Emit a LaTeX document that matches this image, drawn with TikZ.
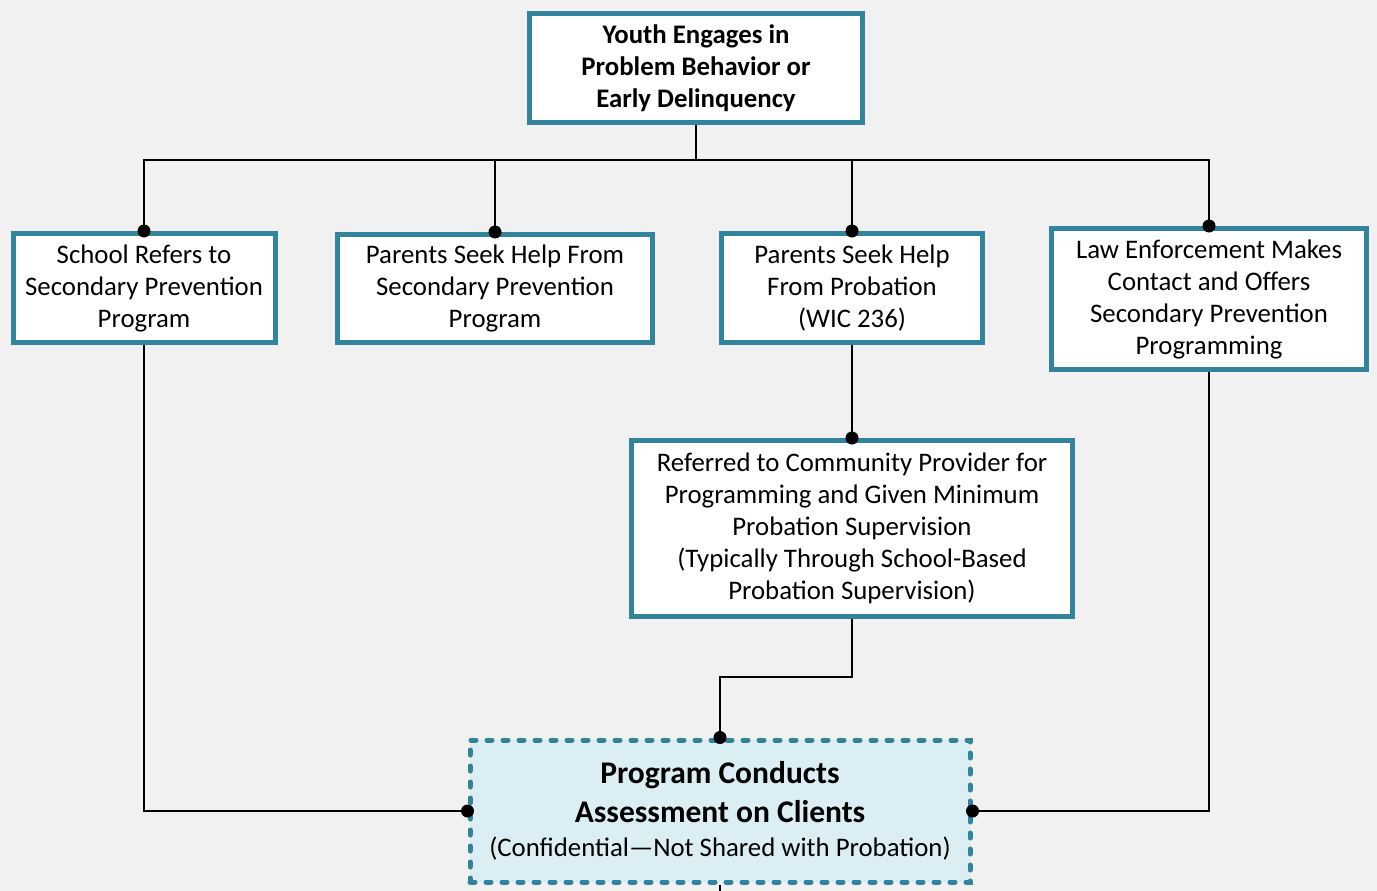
\documentclass[tikz,border=0pt]{standalone}
\usepackage{fontspec}
\setmainfont{Carlito}
\definecolor{boxteal}{HTML}{31849B}
\definecolor{paleblue}{HTML}{DAEEF3}
\definecolor{pagegray}{HTML}{F1F1F1}
\tikzset{
  stepbox/.style={draw=boxteal, line width=5pt, fill=white, align=center, inner sep=0pt,
    font=\fontsize{26.8}{32}\selectfont},
  link/.style={line width=2pt},
}

\begin{document}
\begin{tikzpicture}[x=1pt, y=-1pt]
        \fill[pagegray] (0,0) rectangle (1377,891);
        \useasboundingbox (0,0) rectangle (1377,891);
        % boxes
        \node[stepbox, font=\fontsize{26.8}{32}\selectfont\bfseries, minimum width=333pt, minimum height=108pt] (youth) at (696,68)
            {Youth Engages in\\Problem Behavior or\\Early Delinquency};
        \node[stepbox, minimum width=262pt, minimum height=109pt] (school) at (144,288)
            {School Refers to\\Secondary Prevention\\Program};
        \node[stepbox, minimum width=315pt, minimum height=108pt] (parentsprog) at (495,288.5)
            {Parents Seek Help From\\Secondary Prevention\\Program};
        \node[stepbox, minimum width=261pt, minimum height=109pt] (parentsprob) at (852,288)
            {Parents Seek Help\\From Probation\\(WIC 236)};
        \node[stepbox, minimum width=315pt, minimum height=141pt] (law) at (1209,299)
            {Law Enforcement Makes\\Contact and Offers\\Secondary Prevention\\Programming};
        \node[stepbox, minimum width=441pt, minimum height=176pt] (referred) at (852,528.5)
            {Referred to Community Provider for\\Programming and Given Minimum\\Probation Supervision\\(Typically Through School-Based\\Probation Supervision)};
        \node[stepbox, fill=paleblue, dash pattern=on 5pt off 11pt, line cap=round,
            minimum width=500pt, minimum height=142pt, font=\fontsize{31.5}{39}\selectfont\bfseries] (assess) at (720,811)
            {Program Conducts\\Assessment on Clients\\[-5pt]
             \fontsize{26.8}{35}\selectfont\mdseries(Confidential---Not Shared with Probation)};
        \coordinate (exit) at (720,891);
        % connectors
        \draw[link] (youth.south) -- ++(0,35) coordinate (hub);
        \draw[link] (school.north) |- (hub) -| (law.north);
        \draw[link] (parentsprog.north) -- (parentsprog.north |- hub);
        \draw[link] (parentsprob.north) -- (parentsprob.north |- hub);
        \draw[link] (parentsprob.south) -- (referred.north);
        \draw[link] (referred.south) -- ++(0,58) -| (assess.north);
        \draw[link] (school.south) |- (assess.west);
        \draw[link] (law.south) |- (assess.east);
        \draw[link] (assess.south) -- (exit);
        \foreach \a in {school.north, parentsprog.north, parentsprob.north, law.north,
            referred.north, assess.north, assess.west, assess.east}
            \fill (\a) circle (6.5pt);
\end{tikzpicture}
\end{document}
